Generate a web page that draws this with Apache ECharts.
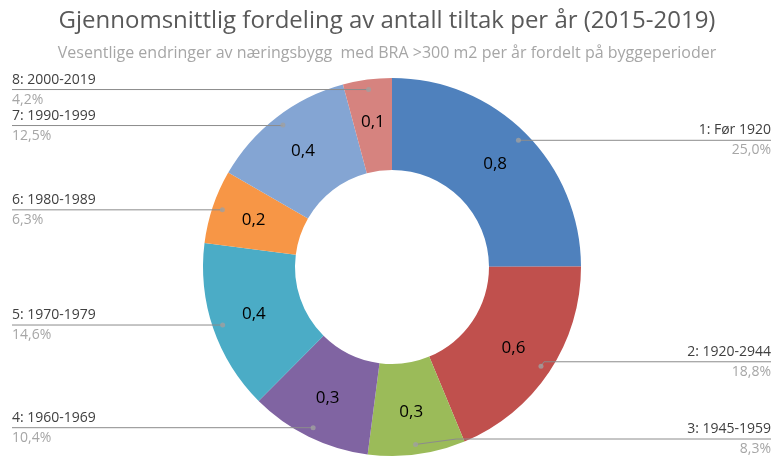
<!DOCTYPE html>
<html>
<head>
<meta charset="utf-8">
<script src="https://cdn.jsdelivr.net/npm/echarts@6/dist/echarts.min.js"></script>
<style>
  html, body { margin: 0; padding: 0; background: #ffffff; }
  #chart { width: 774px; height: 457px; }
</style>
</head>
<body>
<div id="chart"></div>
<script>
// Average number of measures per year by building period
const titleText = 'Gjennomsnittlig fordeling av antall tiltak per år (2015-2019)';
const subtitleText = 'Vesentlige endringer av næringsbygg  med BRA >300 m2 per år fordelt på byggeperioder';
const categories = ['1: Før 1920', '2: 1920-2944', '3: 1945-1959', '4: 1960-1969',
                    '5: 1970-1979', '6: 1980-1989', '7: 1990-1999', '8: 2000-2019'];
const values = [0.765, 0.575, 0.255, 0.319, 0.446, 0.193, 0.383, 0.128];
const colors = ['#4F81BD', '#C0504D', '#9BBB59', '#8064A2', '#4BACC6', '#F79646', '#84A5D3', '#D6837F'];

const FONT = '"Open Sans", sans-serif';
const CX = 392, CY = 267;
const total = values.reduce((a, b) => a + b, 0);
const fmtNum = v => v.toFixed(1).replace('.', ',');
const fmtPct = v => (v / total * 100).toFixed(1).replace('.', ',') + '%';
// middle of each slice, expressed in value units along the angle axis
const mids = values.map((v, i) => values.slice(0, i).reduce((a, b) => a + b, 0) + v / 2);

const pieData = categories.map((c, i) => ({ name: c, value: values[i] }));

const chart = echarts.init(document.getElementById('chart'), null, { renderer: 'canvas' });

chart.setOption({
  animation: false,
  backgroundColor: '#ffffff',
  title: [
    { text: titleText, left: 'center', top: 4,
      textStyle: { fontFamily: FONT, fontSize: 24, fontWeight: 'normal', color: '#595959' } },
    { text: subtitleText, left: 'center', top: 40,
      textStyle: { fontFamily: FONT, fontSize: 16, fontWeight: 'normal', color: '#A6A6A6' } }
  ],
  polar: { center: [CX, CY], radius: 179 },
  angleAxis: { type: 'value', min: 0, max: total, startAngle: 90, clockwise: true, show: false },
  radiusAxis: { type: 'value', min: 0, max: 1, show: false },
  series: [
    {
      type: 'pie',
      center: [CX, CY],
      radius: [97, 189],
      startAngle: 90,
      clockwise: true,
      silent: true,
      data: pieData.map((d, i) => ({ ...d, itemStyle: { color: colors[i] } })),
      itemStyle: { borderWidth: 0 },
      label: {
        position: 'inside',
        formatter: p => fmtNum(p.value),
        fontFamily: FONT, fontSize: 17, color: '#000000'
      },
      labelLine: { show: false }
    },
    {
      // invisible ring carrying the outer category labels and leader lines
      type: 'pie',
      center: [CX, CY],
      radius: [0, 179],
      startAngle: 90,
      clockwise: true,
      silent: true,
      z: 3,
      data: pieData,
      itemStyle: { color: 'rgba(0,0,0,0)' },
      label: {
        position: 'outer',
        alignTo: 'edge',
        edgeDistance: 12,
        formatter: p => '{n|' + p.name + '}\n{p|' + fmtPct(p.value) + '}',
        rich: {
          n: { fontFamily: FONT, fontSize: 14, color: '#404040', lineHeight: 20 },
          p: { fontFamily: FONT, fontSize: 14, color: '#A6A6A6', lineHeight: 20 }
        }
      },
      labelLine: { show: true, length: 0, length2: 10, lineStyle: { color: '#8C8C8C', width: 1 } },
      labelLayout: function (params) {
        const pts = params.labelLinePoints;
        if (!pts) return {};
        const r = params.labelRect;
        const isLeft = r.x + r.width / 2 < CX;
        const dx = isLeft ? 0 : 9;
        pts[2][0] = isLeft ? r.x : r.x + r.width + dx;
        return { dx: dx, labelLinePoints: pts };
      }
    },
    {
      type: 'scatter',
      coordinateSystem: 'polar',
      silent: true,
      z: 5,
      symbolSize: 5,
      itemStyle: { color: '#A0A0A0' },
      data: mids.map(m => [1, m])
    }
  ]
});
</script>
</body>
</html>
